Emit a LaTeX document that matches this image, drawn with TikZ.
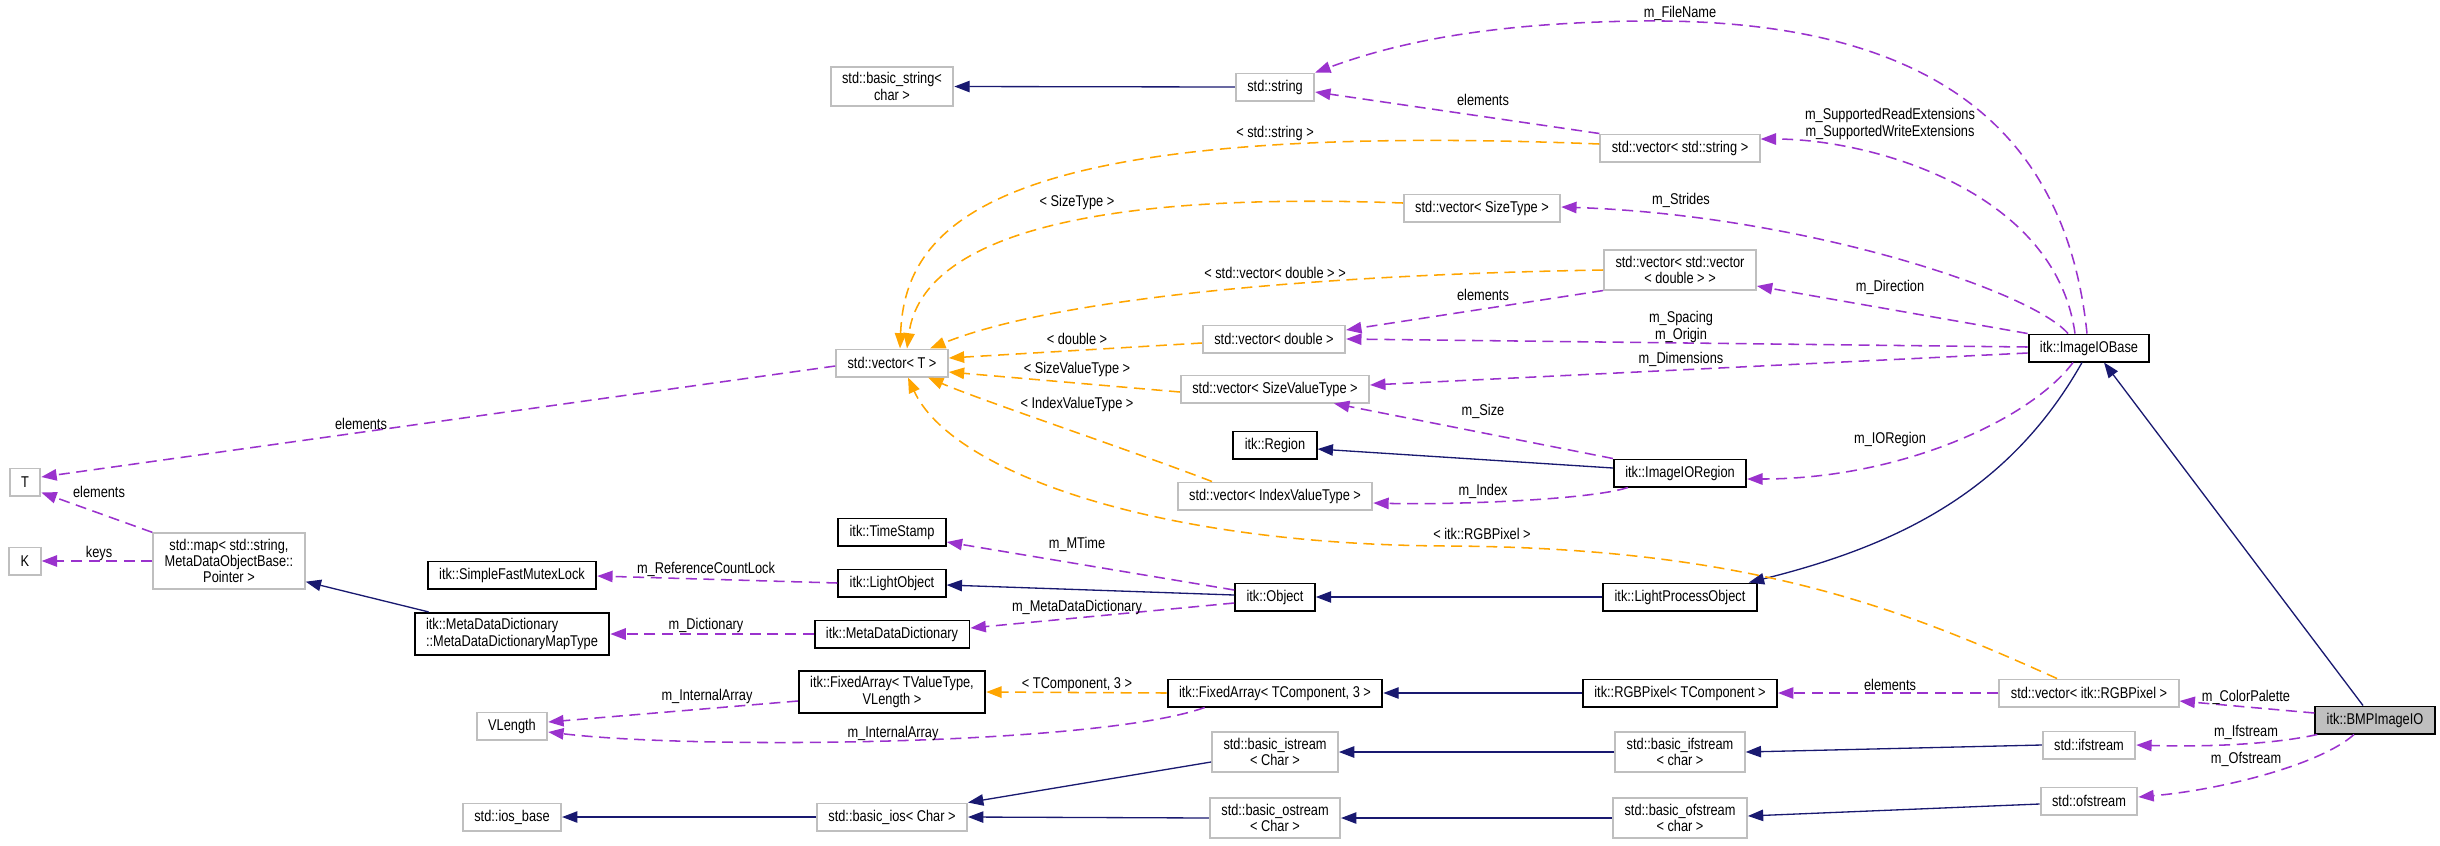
\documentclass[tikz,border=0pt]{standalone}
\usepackage{fontspec}
\setmainfont{Liberation Sans}[FakeStretch=0.82]
\usepackage{xcolor}
\definecolor{cMember}{HTML}{9A32CD}
\definecolor{cTmpl}{HTML}{FFA500}
\definecolor{cInherit}{HTML}{191970}
\definecolor{cFrame}{HTML}{BFBFBF}
\usetikzlibrary{positioning,arrows.meta,calc}
\tikzset{
  cls-ext/.style={draw=cFrame,line width=0.9pt,fill=white,align=center,
    inner xsep=5.2pt,inner ysep=2.6pt,minimum height=12.3pt,
    font=\fontsize{7.1}{7.4}\selectfont},
  cls-doc/.style={cls-ext,draw=black},
  cls-main/.style={cls-ext,draw=black,fill=cFrame},
  edge-label/.style={font=\fontsize{7.1}{7.4}\selectfont,align=center,inner sep=0pt},
  edge-member/.style={-{Triangle[length=7pt,width=5.2pt]},line width=0.7pt,
    draw=cMember,dash pattern=on 5pt off 3pt},
  edge-tmpl/.style={-{Triangle[length=7pt,width=5.2pt]},line width=0.7pt,
    draw=cTmpl,dash pattern=on 5pt off 3pt},
  edge-inherit/.style={-{Triangle[length=7pt,width=5.2pt]},line width=0.6pt,
    draw=cInherit},
}
\begin{document}
\begin{tikzpicture}[x=0.016cm,y=-0.016cm]
  \useasboundingbox (0,0) rectangle (2440,845);
  % classes, one column per rank
  \node[cls-ext] (typeT) at (25,482) {T};
  \node[cls-ext] (typeK) at (25,561) {K};
  \node[cls-ext] (stdMap) at (229,561) {std::map< std::string,\\MetaDataObjectBase::\\Pointer >};
  \node[cls-doc] (mutexLock) at (512,575) {itk::SimpleFastMutexLock};
  \node[cls-doc,align=left] (mapType) at (512,634) {itk::MetaDataDictionary\\::MetaDataDictionaryMapType};
  \node[cls-ext] (vLength) at (512,726) {VLength};
  \node[cls-ext] (iosBase) at (512,817) {std::ios\_base};
  \node[cls-ext] (basicString) at (892,86.5) {std::basic\_string<\\char >};
  \node[cls-ext] (vecT) at (892,363) {std::vector< T >};
  \node[cls-doc] (timeStamp) at (892,532) {itk::TimeStamp};
  \node[cls-doc] (lightObject) at (892,583) {itk::LightObject};
  \node[cls-doc] (metaDict) at (892,634) {itk::MetaDataDictionary};
  \node[cls-doc] (fixedValue) at (892,692) {itk::FixedArray< TValueType,\\VLength >};
  \node[cls-ext] (basicIos) at (892,817) {std::basic\_ios< Char >};
  \node[cls-ext] (stdString) at (1275,87) {std::string};
  \node[cls-ext] (vecSizeType) at (1482,208) {std::vector< SizeType >};
  \node[cls-ext] (vecDouble) at (1274,339) {std::vector< double >};
  \node[cls-ext] (vecSizeValue) at (1275,389) {std::vector< SizeValueType >};
  \node[cls-doc] (region) at (1275,445) {itk::Region};
  \node[cls-ext] (vecIndexValue) at (1275,496) {std::vector< IndexValueType >};
  \node[cls-doc] (itkObject) at (1275,597) {itk::Object};
  \node[cls-doc] (fixedComp) at (1275,693) {itk::FixedArray< TComponent, 3 >};
  \node[cls-ext] (basicIstream) at (1275,752) {std::basic\_istream\\< Char >};
  \node[cls-ext] (basicOstream) at (1275,818) {std::basic\_ostream\\< Char >};
  \node[cls-ext] (vecString) at (1680,148) {std::vector< std::string >};
  \node[cls-ext] (vecVecDouble) at (1680,270) {std::vector< std::vector\\< double > >};
  \node[cls-doc] (ioRegion) at (1680,473) {itk::ImageIORegion};
  \node[cls-doc] (lightProcess) at (1680,597) {itk::LightProcessObject};
  \node[cls-doc] (rgbPixel) at (1680,693) {itk::RGBPixel< TComponent >};
  \node[cls-ext] (basicIfstream) at (1680,752) {std::basic\_ifstream\\< char >};
  \node[cls-ext] (basicOfstream) at (1680,818) {std::basic\_ofstream\\< char >};
  \node[cls-doc] (ioBase) at (2089,348) {itk::ImageIOBase};
  \node[cls-ext] (vecRgb) at (2089,693) {std::vector< itk::RGBPixel >};
  \node[cls-ext] (ifStream) at (2089,745) {std::ifstream};
  \node[cls-ext] (ofStream) at (2089,801) {std::ofstream};
  \node[cls-main] (bmpIO) at (2375,720) {itk::BMPImageIO};

  % inheritance
  \foreach \src/\dst in {stdString/basicString,lightProcess/itkObject,rgbPixel/fixedComp,
      basicOstream/basicIos,basicIos/iosBase,basicIfstream/basicIstream,
      basicOfstream/basicOstream,ifStream/basicIfstream}
    \draw[edge-inherit] (\src.west) -- (\dst.east);
  \draw[edge-inherit] ($(ioRegion.west)+(0,-5)$) -- ($(region.east)+(0,4)$);
  \draw[edge-inherit] ($(itkObject.west)+(0,-2)$) -- ($(lightObject.east)+(0,2)$);
  \draw[edge-inherit] ($(mapType.north west)+(15,0)$) -- ($(stdMap.south east)+(0,-8)$);
  \draw[edge-inherit] ($(basicIstream.west)+(0,10)$) -- (basicIos.north east);
  \draw[edge-inherit] ($(ofStream.west)+(0,3)$) -- ($(basicOfstream.east)+(0,-2)$);
  \draw[edge-inherit] ($(bmpIO.north)+(-12,0)$) -- ($(ioBase.south)+(15,0)$);
  \draw[edge-inherit] ($(ioBase.south)+(-7,0)$) .. controls (2010,490) and (1900,545) .. ($(lightProcess.north east)+(-9,0)$);

  % template instances
  \draw[edge-tmpl] ($(vecString.west)+(0,-4)$) .. controls (1000,120) and (905,220) .. ($(vecT.north)+(8,0)$);
  \draw[edge-tmpl] ($(vecSizeType.west)+(0,-5)$) .. controls (1050,190) and (920,250) .. ($(vecT.north)+(15,0)$);
  \draw[edge-tmpl] (vecVecDouble.west) .. controls (1300,275) and (1050,300) .. ($(vecT.north)+(38,0)$);
  \draw[edge-tmpl] ($(vecDouble.west)+(0,4)$) -- ($(vecT.east)+(0,-5)$);
  \draw[edge-tmpl] ($(vecSizeValue.west)+(0,3)$) -- ($(vecT.east)+(0,9)$);
  \draw[edge-tmpl] ($(vecIndexValue.north)+(-63,0)$) .. controls (1130,450) and (980,400) .. ($(vecT.south)+(36,0)$);
  \draw[edge-tmpl] ($(vecRgb.north)+(-32,0)$) .. controls (1900,608) and (1750,548) .. (1450,546)
    .. controls (1150,545) and (950,470) .. ($(vecT.south)+(16,0)$);
  \draw[edge-tmpl] (fixedComp.west) -- (fixedValue.east);

  % members
  \draw[edge-member] ($(ioBase.north)+(-2,0)$) .. controls (2065,120) and (1920,18) .. (1640,21)
    .. controls (1480,23) and (1390,45) .. (stdString.north east);
  \draw[edge-member] (vecString.north west) -- ($(stdString.east)+(0,5)$);
  \draw[edge-member] ($(ioBase.north)+(-14,0)$) .. controls (2055,190) and (1870,139) .. ($(vecString.east)+(0,-9)$);
  \draw[edge-member] ($(ioBase.north)+(-21,0)$) .. controls (2030,290) and (1800,215) .. ($(vecSizeType.east)+(0,-1)$);
  \draw[edge-member] (ioBase.north west) -- ($(vecVecDouble.east)+(0,16)$);
  \draw[edge-member] (vecVecDouble.south west) -- ($(vecDouble.east)+(0,-9)$);
  \draw[edge-member] ($(ioBase.west)+(0,-1)$) -- (vecDouble.east);
  \draw[edge-member] ($(ioBase.west)+(0,5)$) -- ($(vecSizeValue.east)+(0,-4)$);
  \draw[edge-member] (ioRegion.north west) -- ($(vecSizeValue.south)+(59,0)$);
  \draw[edge-member] ($(ioBase.south)+(-16,0)$) .. controls (2030,420) and (1900,479) .. ($(ioRegion.east)+(0,6)$);
  \draw[edge-member] ($(ioRegion.south west)+(15,0)$) .. controls (1590,500) and (1450,505) .. ($(vecIndexValue.east)+(0,7)$);
  \draw[edge-member] ($(vecT.west)+(0,3)$) -- ($(typeT.east)+(0,-5)$);
  \draw[edge-member] (stdMap.north west) -- ($(typeT.south east)+(0,-4)$);
  \draw[edge-member] (stdMap.west) -- (typeK.east);
  \draw[edge-member] (lightObject.west) -- ($(mutexLock.east)+(0,1)$);
  \draw[edge-member] (metaDict.west) -- (mapType.east);
  \draw[edge-member] ($(fixedValue.west)+(0,9)$) -- ($(vLength.east)+(0,-4)$);
  \draw[edge-member] ($(fixedComp.south west)+(38,0)$) .. controls (1100,745) and (700,750) .. ($(vLength.east)+(0,6)$);
  \draw[edge-member] ($(itkObject.west)+(0,-7)$) -- ($(timeStamp.east)+(0,10)$);
  \draw[edge-member] ($(itkObject.west)+(0,6)$) -- ($(metaDict.east)+(0,-6)$);
  \draw[edge-member] (vecRgb.west) -- (rgbPixel.east);
  \draw[edge-member] ($(bmpIO.west)+(0,-7)$) -- ($(vecRgb.east)+(0,8)$);
  \draw[edge-member] ($(bmpIO.south west)+(3,0)$) .. controls (2270,745) and (2200,747) .. (ifStream.east);
  \draw[edge-member] ($(bmpIO.south)+(-21,0)$) .. controls (2320,765) and (2220,790) .. ($(ofStream.east)+(0,-4)$);

  % edge labels
  \node[edge-label] (lFileName) at (1680,13) {m\_FileName};
  \node[edge-label] (lStrElems) at (1483,100) {elements};
  \node[edge-label] (lExt) at (1890,124) {m\_SupportedReadExtensions\\m\_SupportedWriteExtensions};
  \node[edge-label] (lStrides) at (1681,200) {m\_Strides};
  \node[edge-label] (lDirection) at (1890,287) {m\_Direction};
  \node[edge-label] (lDblElems) at (1483,295) {elements};
  \node[edge-label] (lSpacing) at (1681,327) {m\_Spacing\\m\_Origin};
  \node[edge-label] (lDims) at (1681,359) {m\_Dimensions};
  \node[edge-label] (lSize) at (1483,411) {m\_Size};
  \node[edge-label] (lIORegion) at (1890,439) {m\_IORegion};
  \node[edge-label] (lIndex) at (1483,491) {m\_Index};
  \node[edge-label] (lTElems) at (361,424) {elements};
  \node[edge-label] (lMapElems) at (99,492) {elements};
  \node[edge-label] (lKeys) at (99,553) {keys};
  \node[edge-label] (lRefLock) at (706,569) {m\_ReferenceCountLock};
  \node[edge-label] (lMTime) at (1077,544) {m\_MTime};
  \node[edge-label] (lMetaDict) at (1077,607) {m\_MetaDataDictionary};
  \node[edge-label] (lDict) at (706,625) {m\_Dictionary};
  \node[edge-label] (lArrA) at (707,696) {m\_InternalArray};
  \node[edge-label] (lArrB) at (893,733) {m\_InternalArray};
  \node[edge-label] (lRgbElems) at (1890,685) {elements};
  \node[edge-label] (lPalette) at (2246,697) {m\_ColorPalette};
  \node[edge-label] (lIfs) at (2246,732) {m\_Ifstream};
  \node[edge-label] (lOfs) at (2246,759) {m\_Ofstream};
  \node[edge-label] (tString) at (1275,133) {< std::string >};
  \node[edge-label] (tSizeType) at (1077,202) {< SizeType >};
  \node[edge-label] (tVecDouble) at (1275,273) {< std::vector< double > >};
  \node[edge-label] (tDouble) at (1077,339) {< double >};
  \node[edge-label] (tSizeValue) at (1077,369) {< SizeValueType >};
  \node[edge-label] (tIndexValue) at (1077,404) {< IndexValueType >};
  \node[edge-label] (tRgb) at (1482,534) {< itk::RGBPixel >};
  \node[edge-label] (tComp) at (1077,685) {< TComponent, 3 >};
\end{tikzpicture}
\end{document}
